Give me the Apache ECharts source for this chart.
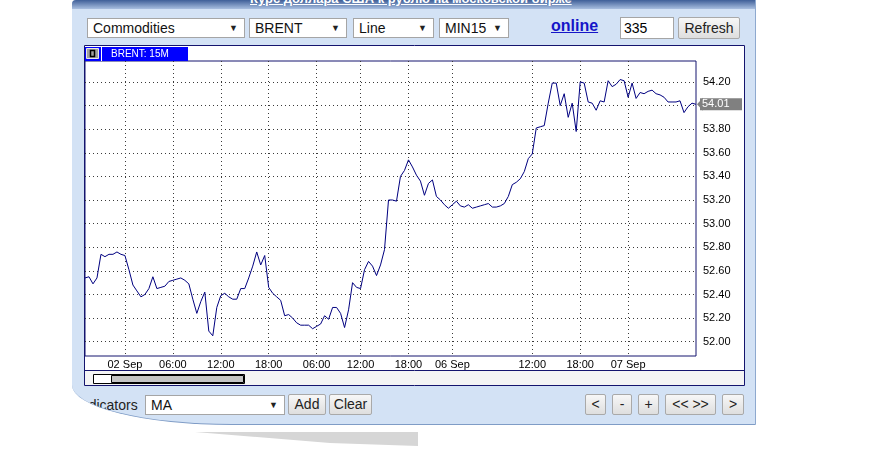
<!DOCTYPE html>
<html>
<head>
<meta charset="utf-8">
<title>BRENT 15M</title>
<script src="https://cdn.jsdelivr.net/npm/echarts@6/dist/echarts.min.js"></script>
<style>
  html, body { margin: 0; padding: 0; background: #fff; }
  body { width: 885px; height: 453px; position: relative; overflow: hidden; font-family: 'Liberation Sans', Arial, sans-serif; }
  .panel { position: absolute; left: 72px; top: 0; width: 683px; height: 424px; background: #d3e2f5;
           border-right: 1px solid #8ea9cf; border-bottom: 1px solid #7f9cc6;
           border-bottom-left-radius: 160px 40px; border-top-left-radius: 4px; overflow: hidden; }
  .topbar { position: absolute; left: 0; top: 0; width: 100%; height: 9px; overflow: hidden;
            background: linear-gradient(#3f5f98, #a9bfe0); }
  .topbar span { position: absolute; left: 178px; top: -9px; color: #fff; font-size: 13px; font-weight: bold;
                 text-decoration: underline; white-space: nowrap; }
  .sel { position: absolute; height: 20px; box-sizing: border-box; background: #fff; border: 1px solid #a5a5a5;
         font-size: 14px; line-height: 18px; padding-left: 5px; color: #111; white-space: nowrap; }
  .sel i { position: absolute; right: 6px; top: 0; font-style: normal; font-size: 9px; color: #222; }
  .btn { position: absolute; height: 21px; box-sizing: border-box; border: 1px solid #a9a9a9; border-radius: 2px;
         background: linear-gradient(#f7f7f7, #dedede); font-size: 14px; line-height: 19px; text-align: center;
         color: #222; overflow: hidden; white-space: nowrap; }
  .link { position: absolute; color: #1515c8; font-weight: bold; font-size: 16px; text-decoration: underline; }
  .inp { position: absolute; height: 22px; box-sizing: border-box; background: #fff; border: 1px solid #a5a5a5;
         font-size: 14px; line-height: 20px; padding-left: 3px; }
  .lbl { position: absolute; font-size: 14px; color: #222; }
  #chart { position: absolute; left: 12px; top: 45px; width: 661px; height: 341px; }
  .shadow { position: absolute; left: 0; top: 0; width: 885px; height: 453px; background: #d6d6d6;
            clip-path: polygon(195px 432px, 418px 432px, 418px 446px, 330px 443px); }
</style>
</head>
<body>
<div class="panel">
  <div class="topbar"><span>Курс доллара США к рублю на московской бирже</span></div>

  <div class="sel" style="left:15px; top:18px; width:158px;">Commodities<i>▼</i></div>
  <div class="sel" style="left:177px; top:18px; width:98px;">BRENT<i>▼</i></div>
  <div class="sel" style="left:281px; top:18px; width:81px;">Line<i>▼</i></div>
  <div class="sel" style="left:367px; top:18px; width:70px;">MIN15<i>▼</i></div>
  <div class="link" style="left:479px; top:17px;">online</div>
  <div class="inp" style="left:548px; top:17px; width:54px;">335</div>
  <div class="btn" style="left:606px; top:17px; width:62px; height:22px; line-height:20px;">Refresh</div>

  <div id="chart"></div>

  <div class="lbl" style="left:5px; top:397px;">Indicators</div>
  <div class="sel" style="left:73px; top:395px; width:140px;">MA<i>▼</i></div>
  <div class="btn" style="left:216px; top:394px; width:38px;">Add</div>
  <div class="btn" style="left:257px; top:394px; width:43px;">Clear</div>
  <div class="btn" style="left:513px; top:394px; width:21px;">&lt;</div>
  <div class="btn" style="left:540px; top:394px; width:20px;">-</div>
  <div class="btn" style="left:566px; top:394px; width:21px;">+</div>
  <div class="btn" style="left:593px; top:394px; width:51px;">&lt;&lt; &gt;&gt;</div>
  <div class="btn" style="left:650px; top:394px; width:22px;">&gt;</div>
</div>
<div class="shadow"></div>

<script>
// trading sessions shown on the chart: day, first bar, last bar, missing bars (30 min step)
const sessions = [
  ['01 Sep', '19:00', '23:30', []],
  ['02 Sep', '00:00', '20:30', []],
  ['05 Sep', '03:00', '23:30', ['09:00', '22:00']],
  ['06 Sep', '00:00', '23:30', ['00:30', '01:00', '01:30', '02:00']],
  ['07 Sep', '00:00', '08:30', []]
];
// bars that carry a label and a vertical grid line
const xLabelled = [
  '02 Sep 00:00', '02 Sep 06:00', '02 Sep 12:00', '02 Sep 18:00',
  '05 Sep 06:00', '05 Sep 12:00', '05 Sep 18:00',
  '06 Sep 00:00', '06 Sep 12:00', '06 Sep 18:00',
  '07 Sep 00:00'
];
const yTicks = [52.0, 52.2, 52.4, 52.6, 52.8, 53.0, 53.2, 53.4, 53.6, 53.8, 54.0, 54.2];

const price = [
  52.54, 52.55, 52.49, 52.54, 52.74, 52.72, 52.74, 52.74, 52.76, 52.74,
  52.73, 52.61, 52.48, 52.43, 52.38, 52.40, 52.45, 52.55, 52.45, 52.46,
  52.47, 52.51, 52.52, 52.53, 52.54, 52.52, 52.49, 52.36, 52.24, 52.34,
  52.42, 52.09, 52.05, 52.29, 52.39, 52.41, 52.38, 52.36, 52.36, 52.45,
  52.45, 52.54, 52.64, 52.76, 52.65, 52.73, 52.46, 52.41, 52.38, 52.35,
  52.22, 52.23, 52.20, 52.16, 52.14, 52.14, 52.14, 52.11, 52.13, 52.15,
  52.22, 52.19, 52.29, 52.29, 52.24, 52.12, 52.27, 52.50, 52.46, 52.45,
  52.61, 52.68, 52.64, 52.56, 52.65, 52.78, 53.20, 53.20, 53.19, 53.40,
  53.45, 53.54, 53.48, 53.41, 53.36, 53.24, 53.34, 53.37, 53.23, 53.20,
  53.16, 53.13, 53.16, 53.19, 53.15, 53.14, 53.16, 53.13, 53.14, 53.15,
  53.16, 53.17, 53.14, 53.14, 53.15, 53.17, 53.23, 53.33, 53.35, 53.38,
  53.44, 53.55, 53.59, 53.81, 53.82, 53.83, 54.02, 54.19, 54.19, 54.00,
  54.10, 53.90, 54.02, 53.78, 54.20, 54.19, 54.03, 54.02, 53.96, 54.04,
  54.03, 54.21, 54.16, 54.18, 54.22, 54.21, 54.07, 54.19, 54.06, 54.11,
  54.10, 54.12, 54.13, 54.10, 54.09, 54.07, 54.03, 54.03, 54.03, 54.04,
  53.94, 53.99, 54.02, 54.01
];

const toMin = t => Number(t.slice(0, 2)) * 60 + Number(t.slice(3));
const pad = n => String(n).padStart(2, '0');
const categories = [];
sessions.forEach(([day, from, to, skip]) => {
  for (let m = toMin(from); m <= toMin(to); m += 30) {
    const t = pad(Math.floor(m / 60)) + ':' + pad(m % 60);
    if (!skip.includes(t)) categories.push(day + ' ' + t);
  }
});

const isMark = v => xLabelled.includes(v);
const labelOf = v => (v.slice(-5) === '00:00' ? v.slice(0, 6) : v.slice(-5));
const last = price[price.length - 1];
const navy = '#14146e';
const dotted = { color: '#3a3a3a', width: 1, type: [1, 3] };

const chart = echarts.init(document.getElementById('chart'));
chart.setOption({
  animation: false,
  backgroundColor: '#fff',
  textStyle: { fontFamily: 'Liberation Sans, Arial, sans-serif' },
  grid: {
    left: 1, right: 49, top: 16, bottom: 30,
    show: true, borderColor: navy, borderWidth: 1, backgroundColor: '#fff'
  },
  xAxis: {
    type: 'category',
    data: categories,
    boundaryGap: false,
    axisLine: { show: false },
    axisTick: { show: false },
    axisLabel: {
      interval: (i, v) => isMark(v),
      formatter: v => labelOf(v),
      color: '#000',
      fontSize: 11,
      margin: 3,
      hideOverlap: false
    },
    splitLine: { show: true, interval: (i, v) => isMark(v), lineStyle: dotted }
  },
  yAxis: {
    type: 'value',
    position: 'right',
    min: 51.879,
    max: 54.377,
    axisLine: { show: false },
    axisTick: { show: false, customValues: yTicks },
    axisLabel: {
      customValues: yTicks,
      formatter: v => v.toFixed(2),
      color: '#000',
      fontSize: 11,
      margin: 7
    },
    splitLine: { show: true, lineStyle: dotted }
  },
  series: [{
    type: 'line',
    data: price,
    symbol: 'none',
    lineStyle: { color: '#000080', width: 1 },
    markPoint: {
      silent: true,
      animation: false,
      data: [
        {
          coord: [categories.length - 1, last],
          symbol: 'triangle', symbolSize: [13, 6], symbolRotate: 90, symbolOffset: [4, 0],
          itemStyle: { color: '#808080' }, label: { show: false }
        },
        {
          coord: [categories.length - 1, last],
          symbol: 'rect', symbolSize: [42, 12], symbolOffset: [25, 0],
          itemStyle: { color: '#808080' },
          label: { show: true, position: 'insideLeft', distance: 2, formatter: last.toFixed(2), color: '#fff', fontSize: 11 }
        }
      ]
    }
  }],
  graphic: [
    { type: 'rect', silent: true, z: 100, shape: { x: 1, y: 326, width: 659, height: 14 }, style: { fill: '#f4f4f4' } },
    { type: 'line', silent: true, z: 100, shape: { x1: 0, y1: 325.5, x2: 661, y2: 325.5 }, style: { stroke: navy, lineWidth: 1 } },
    { type: 'rect', silent: true, z: 101, shape: { x: 9.5, y: 329.5, width: 151, height: 9 }, style: { fill: '#fff', stroke: '#000', lineWidth: 1 } },
    { type: 'rect', silent: true, z: 102, shape: { x: 27.5, y: 330.5, width: 132, height: 7 }, style: { fill: '#c4c4c4', stroke: '#000', lineWidth: 1 } },
    { type: 'rect', silent: true, z: 100, shape: { x: 0.5, y: 0.5, width: 660, height: 340 }, style: { fill: 'none', stroke: navy, lineWidth: 1 } },
    { type: 'rect', silent: true, z: 100, shape: { x: 1, y: 2, width: 103, height: 14 }, style: { fill: '#0000ff' } },
    { type: 'rect', silent: true, z: 101, shape: { x: 2.5, y: 3.5, width: 12, height: 10 }, style: { fill: '#a0a0a0', stroke: '#e8e8e8', lineWidth: 1 } },
    { type: 'rect', silent: true, z: 102, shape: { x: 6.5, y: 5.5, width: 4, height: 6 }, style: { fill: '#a0a0a0', stroke: '#000', lineWidth: 1.5 } },
    { type: 'line', silent: true, z: 101, shape: { x1: 17.5, y1: 2, x2: 17.5, y2: 16 }, style: { stroke: '#fff', lineWidth: 1 } },
    { type: 'text', silent: true, z: 101, x: 27, y: 9, style: { text: 'BRENT: 15M', fill: '#fff', fontSize: 10, fontFamily: 'Liberation Sans, Arial, sans-serif', verticalAlign: 'middle' } }
  ]
});
</script>
</body>
</html>
